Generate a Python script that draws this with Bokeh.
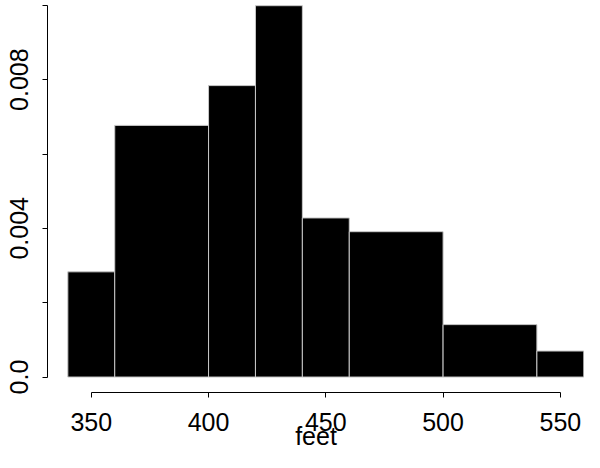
from bokeh.plotting import figure
from bokeh.models import FixedTicker, Range1d
from bokeh.embed import file_html
from bokeh.resources import INLINE

# Histogram of distances (feet): bin edges and densities
breaks = [340, 360, 400, 420, 440, 460, 500, 540, 560]
density = [0.00283, 0.00677, 0.00784, 0.00999, 0.00428, 0.00391, 0.00141, 0.00070]

x_ticks = [350, 400, 450, 500, 550]
y_ticks = [0.0, 0.002, 0.004, 0.006, 0.008, 0.010]
y_tick_labels = ["0.0", "", "0.004", "", "0.008", ""]

FONT = "Liberation Sans"
FS = "25px"

p = figure(width=584, height=452, output_backend="svg", toolbar_location=None,
           x_range=Range1d(331.33, 560.3), y_range=Range1d(-0.000416, 0.0101296),
           min_border_left=47, min_border_right=0, min_border_top=0, min_border_bottom=59)
p.outline_line_color = None
p.xgrid.visible = False
p.ygrid.visible = False
p.background_fill_color = "white"
p.border_fill_color = "white"

p.quad(left=breaks[:-1], right=breaks[1:], bottom=0, top=density,
       fill_color="black", line_color="#c8c8c8", line_width=1)

# x axis
xa = p.xaxis[0]
xa.ticker = FixedTicker(ticks=x_ticks)
xa.bounds = (x_ticks[0], x_ticks[-1])
xa.minor_tick_line_color = None
xa.major_tick_in = 0
xa.major_tick_out = 5
xa.major_label_standoff = 15
xa.major_label_text_font = FONT
xa.major_label_text_font_size = FS
xa.major_label_text_color = "black"
xa.axis_line_color = "black"
xa.major_tick_line_color = "black"
xa.axis_label = "feet"
xa.axis_label_text_font = FONT
xa.axis_label_text_font_size = FS
xa.axis_label_text_font_style = "normal"
xa.axis_label_text_color = "black"
xa.axis_label_standoff = -12

# y axis
ya = p.yaxis[0]
ya.ticker = FixedTicker(ticks=y_ticks)
ya.bounds = (y_ticks[0], y_ticks[-1])
ya.major_label_overrides = {t: l for t, l in zip(y_ticks, y_tick_labels)}
ya.minor_tick_line_color = None
ya.major_tick_in = 0
ya.major_tick_out = 5
ya.major_label_standoff = 14
ya.major_label_orientation = "vertical"
ya.major_label_text_font = FONT
ya.major_label_text_font_size = FS
ya.major_label_text_color = "black"
ya.axis_line_color = "black"
ya.major_tick_line_color = "black"

open("out.html", "w").write(file_html(p, INLINE))
